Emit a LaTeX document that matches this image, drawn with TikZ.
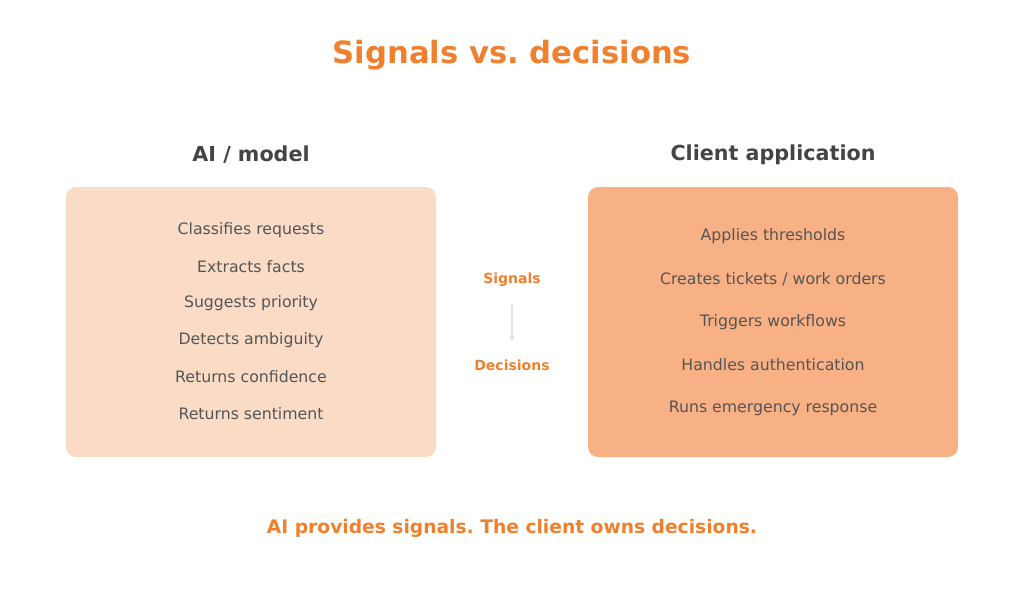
\documentclass[tikz,border=0pt]{standalone}
\usepackage{fontspec}
\setmainfont{DejaVu Sans}
\usetikzlibrary{arrows.meta}
\frenchspacing
\begin{document}
\begin{tikzpicture}[x=0.75pt,y=-0.75pt,
  box/.style={rounded corners=7.5pt,draw=none},
  item/.style={text=txt,font=\fontsize{11.8}{13}\selectfont},
  hdr/.style={text=hd,font=\fontsize{15.5}{18}\selectfont\bfseries},
  orng/.style={text=org,font=\bfseries}]
\definecolor{org}{HTML}{F07F2E}
\definecolor{txt}{HTML}{555555}
\definecolor{hd}{HTML}{444444}
\definecolor{lbox}{HTML}{FADCC6}
\definecolor{rbox}{HTML}{F8B085}
\useasboundingbox (0,0) rectangle (1024,615);
\node[orng,font=\fontsize{23}{26}\selectfont\bfseries] (title) at (512,55) {Signals vs. decisions};
\node[hdr] (hl) at (251,155) {AI / model};
\node[hdr] (hr) at (773,155) {Client application};
\fill[lbox,box] (66,187) rectangle (436,457);
\fill[rbox,box] (588,187) rectangle (958,457);
\node[item] (l1) at (251,230) {Classifies requests};
\node[item] (l2) at (251,267) {Extracts facts};
\node[item] (l3) at (251,303) {Suggests priority};
\node[item] (l4) at (251,340) {Detects ambiguity};
\node[item] (l5) at (251,377) {Returns confidence};
\node[item] (l6) at (251,414) {Returns sentiment};
\node[item] (r1) at (773,236) {Applies thresholds};
\node[item] (r2) at (773,279) {Creates tickets / work orders};
\node[item] (r3) at (773,322) {Triggers workflows};
\node[item] (r4) at (773,365) {Handles authentication};
\node[item] (r5) at (773,408) {Runs emergency response};
\node[orng,font=\fontsize{10.5}{12}\selectfont\bfseries] (sig) at (512,280) {Signals};
\node[orng,font=\fontsize{10.5}{12}\selectfont\bfseries] (dec) at (512,365) {Decisions};
\coordinate (a1) at (512,304);
\coordinate (a2) at (512,341);
\draw[black!12,line width=0.8pt,-{Stealth[length=4pt,width=4pt]}] (a1) -- (a2);
\node[orng,font=\fontsize{14}{16}\selectfont\bfseries] (foot) at (512,528) {AI provides signals. The client owns decisions.};
\end{tikzpicture}
\end{document}
